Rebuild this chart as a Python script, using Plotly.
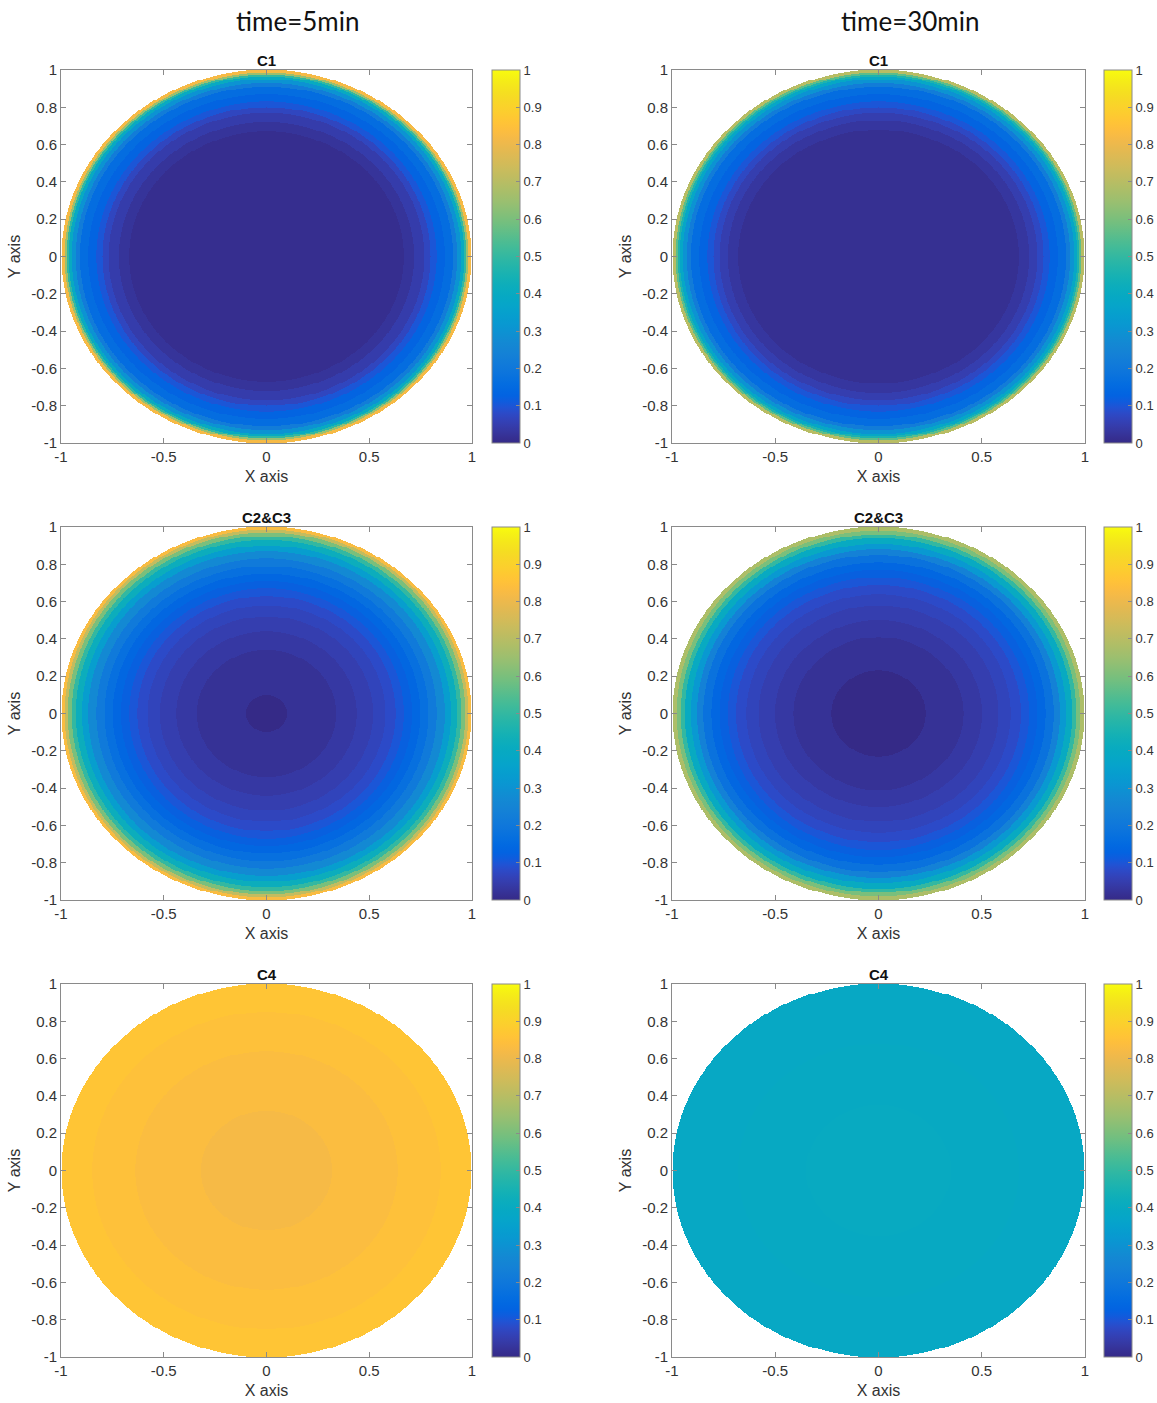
import numpy as np
import plotly.graph_objects as go

# ---------------- data ----------------
# Each panel: outer radius of each concentric ring and the value inside that ring
c1_5min_r = [0.67, 0.72, 0.77, 0.80, 0.83, 0.87, 0.91, 0.93, 0.95, 0.965, 0.975, 0.985, 1.0]
c1_5min_v = [0.01, 0.025, 0.045, 0.07, 0.10, 0.13, 0.16, 0.22, 0.30, 0.40, 0.50, 0.65, 0.82]

c1_30min_r = [0.68, 0.73, 0.77, 0.80, 0.83, 0.87, 0.91, 0.93, 0.95, 0.965, 0.975, 0.985, 1.0]
c1_30min_v = [0.015, 0.03, 0.05, 0.075, 0.10, 0.13, 0.16, 0.22, 0.30, 0.38, 0.46, 0.56, 0.70]

c23_5min_r = [0.10, 0.34, 0.44, 0.52, 0.58, 0.63, 0.67, 0.71, 0.75, 0.79, 0.83, 0.87, 0.90, 0.93, 0.95, 0.97, 0.985, 1.0]
c23_5min_v = [0.0, 0.02, 0.035, 0.05, 0.065, 0.08, 0.10, 0.12, 0.14, 0.17, 0.21, 0.27, 0.34, 0.42, 0.50, 0.60, 0.72, 0.83]

c23_30min_r = [0.23, 0.41, 0.50, 0.58, 0.64, 0.69, 0.73, 0.77, 0.81, 0.85, 0.88, 0.91, 0.94, 0.96, 0.98, 1.0]
c23_30min_v = [0.0, 0.02, 0.035, 0.05, 0.065, 0.08, 0.10, 0.12, 0.14, 0.18, 0.24, 0.32, 0.40, 0.50, 0.60, 0.68]

c4_5min_r = [0.32, 0.64, 0.85, 1.0]
c4_5min_v = [0.82, 0.835, 0.85, 0.865]

c4_30min_r = [0.35, 0.68, 1.0]
c4_30min_v = [0.40, 0.395, 0.39]

column_titles = ["time=5min", "time=30min"]
panel_titles = ["C1", "C2&C3", "C4"]
x_tickvals = [-1, -0.5, 0, 0.5, 1]
x_ticktext = ["-1", "-0.5", "0", "0.5", "1"]
y_tickvals = [-1, -0.8, -0.6, -0.4, -0.2, 0, 0.2, 0.4, 0.6, 0.8, 1]
y_ticktext = ["-1", "-0.8", "-0.6", "-0.4", "-0.2", "0", "0.2", "0.4", "0.6", "0.8", "1"]
cb_tickvals = [0, 0.1, 0.2, 0.3, 0.4, 0.5, 0.6, 0.7, 0.8, 0.9, 1]
cb_ticktext = ["0", "0.1", "0.2", "0.3", "0.4", "0.5", "0.6", "0.7", "0.8", "0.9", "1"]

panels = [
    (0, 0, c1_5min_r, c1_5min_v), (0, 1, c1_30min_r, c1_30min_v),
    (1, 0, c23_5min_r, c23_5min_v), (1, 1, c23_30min_r, c23_30min_v),
    (2, 0, c4_5min_r, c4_5min_v), (2, 1, c4_30min_r, c4_30min_v),
]

# ---------------- parula colormap (MATLAB R2017a+) ----------------
parula = [
    [0.2081, 0.1663, 0.5292], [0.2116, 0.1898, 0.5777], [0.2123, 0.2138, 0.6270], [0.2081, 0.2386, 0.6771],
    [0.1959, 0.2645, 0.7279], [0.1707, 0.2919, 0.7792], [0.1253, 0.3242, 0.8303], [0.0591, 0.3598, 0.8683],
    [0.0117, 0.3875, 0.8820], [0.0060, 0.4086, 0.8828], [0.0165, 0.4266, 0.8786], [0.0329, 0.4430, 0.8720],
    [0.0498, 0.4586, 0.8641], [0.0629, 0.4737, 0.8554], [0.0723, 0.4887, 0.8467], [0.0779, 0.5040, 0.8384],
    [0.0793, 0.5200, 0.8312], [0.0749, 0.5375, 0.8263], [0.0641, 0.5570, 0.8240], [0.0488, 0.5772, 0.8228],
    [0.0343, 0.5966, 0.8199], [0.0265, 0.6137, 0.8135], [0.0239, 0.6287, 0.8038], [0.0231, 0.6418, 0.7913],
    [0.0228, 0.6535, 0.7768], [0.0267, 0.6642, 0.7607], [0.0384, 0.6743, 0.7436], [0.0590, 0.6838, 0.7254],
    [0.0843, 0.6928, 0.7062], [0.1133, 0.7015, 0.6859], [0.1453, 0.7098, 0.6646], [0.1801, 0.7177, 0.6424],
    [0.2178, 0.7250, 0.6193], [0.2586, 0.7317, 0.5954], [0.3022, 0.7376, 0.5712], [0.3482, 0.7424, 0.5473],
    [0.3953, 0.7459, 0.5244], [0.4420, 0.7481, 0.5033], [0.4871, 0.7491, 0.4840], [0.5300, 0.7491, 0.4661],
    [0.5709, 0.7485, 0.4494], [0.6099, 0.7473, 0.4337], [0.6473, 0.7456, 0.4188], [0.6834, 0.7435, 0.4044],
    [0.7184, 0.7411, 0.3905], [0.7525, 0.7384, 0.3768], [0.7858, 0.7356, 0.3633], [0.8185, 0.7327, 0.3498],
    [0.8507, 0.7299, 0.3360], [0.8824, 0.7274, 0.3217], [0.9139, 0.7258, 0.3063], [0.9450, 0.7261, 0.2886],
    [0.9739, 0.7314, 0.2666], [0.9938, 0.7455, 0.2403], [0.9990, 0.7653, 0.2164], [0.9955, 0.7861, 0.1967],
    [0.9880, 0.8066, 0.1794], [0.9789, 0.8271, 0.1633], [0.9697, 0.8481, 0.1475], [0.9626, 0.8705, 0.1309],
    [0.9589, 0.8949, 0.1132], [0.9598, 0.9218, 0.0948], [0.9661, 0.9514, 0.0755], [0.9763, 0.9831, 0.0538],
]
colorscale = [[i / 63, "rgb(%d,%d,%d)" % tuple(round(c * 255) for c in rgb)] for i, rgb in enumerate(parula)]

# ---------------- layout geometry (page pixels) ----------------
W, H = 1157, 1403
col_x = [(61, 472), (672, 1085)]
row_y = [(70, 443), (527, 900), (984, 1357)]
cbar_x = [492, 1104]
title_x = [297, 910]
title_y = 21
FONT = "Liberation Sans, Arial, sans-serif"
AXC = "#8a8a8a"
TXC = "#333333"


def px(v):
    return v / W


def py(v):
    return 1 - v / H


N = 411
grid = np.linspace(-1, 1, N)
X, Y = np.meshgrid(grid, grid)
R = np.sqrt(X ** 2 + Y ** 2)

fig = go.Figure()
annotations = []
layout_axes = {}

for k, (row, col, redges, vals) in enumerate(panels):
    redges = np.asarray(redges)
    vals = np.asarray(vals, dtype=float)
    idx = np.searchsorted(redges, R, side="left")
    inside = R <= 1.0
    Z = np.full(R.shape, np.nan, dtype=np.float32)
    Z[inside] = vals[idx[inside]]

    n = k + 1
    xa = "x" if n == 1 else "x%d" % n
    ya = "y" if n == 1 else "y%d" % n
    x0, x1 = col_x[col]
    y0, y1 = row_y[row]
    xd = [px(x0), px(x1)]
    yd = [py(y1), py(y0)]

    fig.add_trace(go.Heatmap(
        x=grid, y=grid, z=Z, xaxis=xa, yaxis=ya,
        colorscale=colorscale, zmin=0, zmax=1, zsmooth=False,
        hoverinfo="skip",
        colorbar=dict(
            x=px(cbar_x[col]), xanchor="left", xpad=0, ypad=0,
            y=(yd[0] + yd[1]) / 2, yanchor="middle",
            len=(y1 - y0) / H, lenmode="fraction",
            thickness=28, thicknessmode="pixels",
            outlinecolor=AXC, outlinewidth=1,
            tickvals=cb_tickvals, ticktext=cb_ticktext,
            ticks="inside", ticklen=4, tickcolor=AXC,
            tickfont=dict(family=FONT, size=13, color=TXC),
        ),
    ))

    axkey_x = "xaxis" if n == 1 else "xaxis%d" % n
    axkey_y = "yaxis" if n == 1 else "yaxis%d" % n
    common = dict(range=[-1, 1], showgrid=False, zeroline=False, showline=True,
                  linecolor=AXC, linewidth=1, mirror="ticks", ticks="inside",
                  ticklen=5, tickcolor=AXC, automargin=False,
                  tickfont=dict(family=FONT, size=15, color=TXC))
    layout_axes[axkey_x] = dict(common, domain=xd, anchor=ya,
                                tickvals=x_tickvals, ticktext=x_ticktext,
                                title=dict(text="X axis", standoff=6,
                                           font=dict(family=FONT, size=16, color=TXC)))
    layout_axes[axkey_y] = dict(common, domain=yd, anchor=xa,
                                tickvals=y_tickvals, ticktext=y_ticktext,
                                title=dict(text="Y axis", standoff=6,
                                           font=dict(family=FONT, size=16, color=TXC)))
    annotations.append(dict(
        text="<b>%s</b>" % panel_titles[row], xref="paper", yref="paper",
        x=(xd[0] + xd[1]) / 2, y=yd[1], xanchor="center", yanchor="bottom",
        showarrow=False, yshift=-1, font=dict(family=FONT, size=15, color="#111111")))

for col, t in enumerate(column_titles):
    annotations.append(dict(
        text=t, xref="paper", yref="paper", x=px(title_x[col]), y=py(title_y),
        xanchor="center", yanchor="middle", showarrow=False,
        font=dict(family="Lato, Open Sans, sans-serif", size=26, color="#111111")))

fig.update_layout(
    width=W, height=H, margin=dict(l=0, r=0, t=0, b=0, pad=0, autoexpand=False),
    paper_bgcolor="white", plot_bgcolor="white",
    showlegend=False, annotations=annotations, **layout_axes,
)

fig.write_html(
    "out.html",
    config={"displayModeBar": False},
    post_script="document.body.style.margin='0px';"
                "document.documentElement.style.overflow='hidden';"
                "document.body.style.overflow='hidden';",
)
